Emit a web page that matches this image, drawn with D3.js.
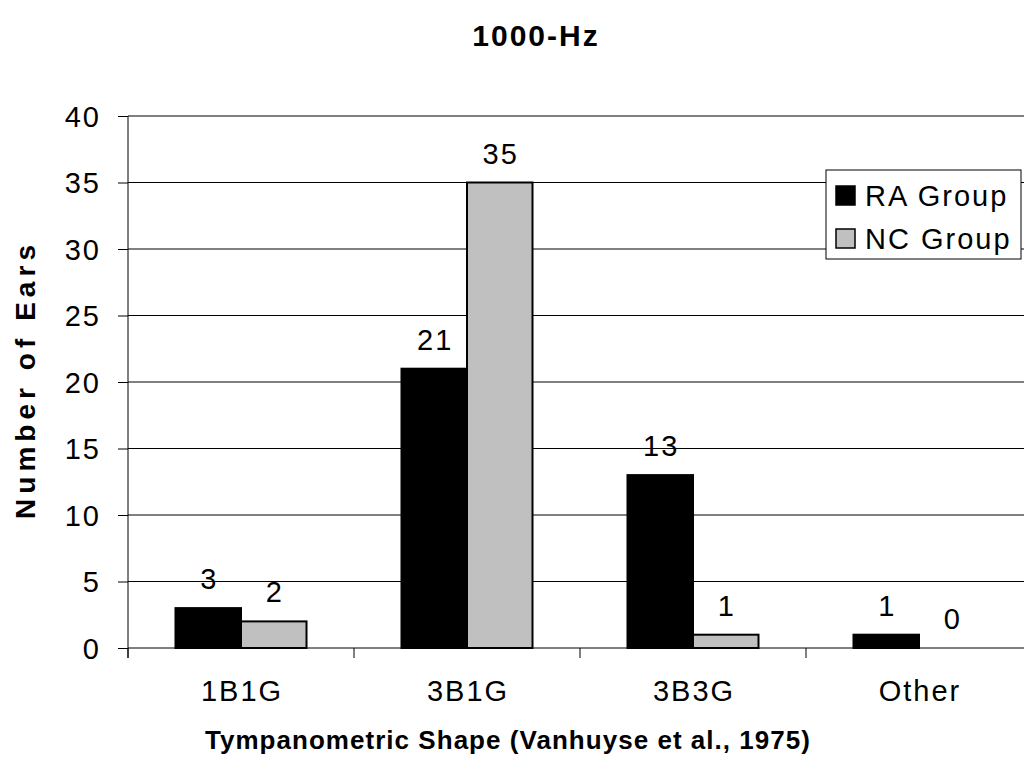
<!DOCTYPE html>
<html>
<head>
<meta charset="utf-8">
<script src="https://cdn.jsdelivr.net/npm/d3@7"></script>
<style>
  html, body { margin: 0; padding: 0; background: #fff; }
  svg { display: block; font-family: "Liberation Sans", Arial, sans-serif; }
</style>
</head>
<body>
<svg id="chart" width="1024" height="764"></svg>
<script>
// Tympanogram shape counts per group
const categories = ["1B1G", "3B1G", "3B3G", "Other"];
const seriesNames = ["RA Group", "NC Group"];
const raValues = [3, 21, 13, 1];
const ncValues = [2, 35, 1, 0];
const yTicks = [0, 5, 10, 15, 20, 25, 30, 35, 40];
const titleText = "1000-Hz";
const xTitleText = "Tympanometric Shape (Vanhuyse et al., 1975)";
const yTitleText = "Number of Ears";

const seriesFill = ["#000000", "#c0c0c0"];
const svg = d3.select("#chart");

const plot = { left: 128, right: 1032, top: 116, bottom: 648 };
const FS = 29;   // regular label size
const LS = 2;    // letter spacing used for regular labels

const x = d3.scaleBand().domain(categories).range([plot.left, plot.right]).paddingInner(0).paddingOuter(0);
const xs = d3.scaleBand().domain(seriesNames).range([0, x.bandwidth()]).paddingInner(0).paddingOuter(0.725);
const y = d3.scaleLinear().domain([0, 40]).range([plot.bottom, plot.top]);

// horizontal gridlines
svg.append("g").selectAll("line").data(yTicks.filter(d => d > 0)).join("line")
  .attr("x1", plot.left).attr("x2", plot.right)
  .attr("y1", d => y(d)).attr("y2", d => y(d))
  .attr("stroke", "#000").attr("stroke-width", 1);

// y axis
const yAxis = svg.append("g").attr("transform", `translate(${plot.left},0)`)
  .call(d3.axisLeft(y).tickValues(yTicks).tickSize(10).tickFormat(d3.format("d")));
yAxis.select(".domain").remove();
yAxis.selectAll(".tick line").attr("stroke", "#000");
yAxis.selectAll(".tick text")
  .attr("x", -29 + LS).attr("dy", "10px")
  .attr("font-size", FS).attr("letter-spacing", LS).attr("fill", "#000")
  .attr("font-family", "Liberation Sans, Arial, sans-serif");
svg.append("line").attr("x1", plot.left).attr("x2", plot.left)
  .attr("y1", plot.top).attr("y2", plot.bottom + 10).attr("stroke", "#000");

// x axis
const xAxis = svg.append("g").attr("transform", `translate(0,${plot.bottom})`)
  .call(d3.axisBottom(x).tickSize(0).tickFormat(""));
xAxis.select(".domain").remove();
svg.append("line").attr("x1", plot.left).attr("x2", plot.right)
  .attr("y1", plot.bottom).attr("y2", plot.bottom).attr("stroke", "#000");
const bounds = categories.map(c => x(c)).concat([x(categories[categories.length - 1]) + x.bandwidth()]);
svg.append("g").selectAll("line").data(bounds).join("line")
  .attr("x1", d => d).attr("x2", d => d)
  .attr("y1", plot.bottom).attr("y2", plot.bottom + 10)
  .attr("stroke", "#000");
svg.append("g").selectAll("text").data(categories).join("text")
  .attr("x", d => x(d) + x.bandwidth() / 2 + LS / 2)
  .attr("y", 701)
  .attr("text-anchor", "middle")
  .attr("font-size", FS).attr("letter-spacing", LS)
  .text(d => d);

// bars
const rows = categories.map((c, i) => ({ cat: c, vals: [raValues[i], ncValues[i]] }));
const groups = svg.append("g").selectAll("g").data(rows).join("g")
  .attr("transform", d => `translate(${x(d.cat)},0)`);
groups.selectAll("rect").data(d => d.vals.map((v, j) => ({ v, j }))).join("rect")
  .attr("x", d => xs(seriesNames[d.j]))
  .attr("width", xs.bandwidth())
  .attr("y", d => y(d.v))
  .attr("height", d => y(0) - y(d.v))
  .attr("fill", d => seriesFill[d.j])
  .attr("stroke", "#000").attr("stroke-width", 2)
  .attr("display", d => d.v > 0 ? null : "none");
groups.selectAll("text").data(d => d.vals.map((v, j) => ({ v, j }))).join("text")
  .attr("x", d => xs(seriesNames[d.j]) + xs.bandwidth() / 2 + LS / 2)
  .attr("y", d => y(d.v) - 19)
  .attr("text-anchor", "middle")
  .attr("font-size", FS).attr("letter-spacing", LS)
  .text(d => d.v);

// titles
svg.append("text").attr("x", 536).attr("y", 46)
  .attr("text-anchor", "middle").attr("font-weight", "bold").attr("font-size", 30)
  .attr("letter-spacing", 2)
  .text(titleText);
svg.append("text").attr("x", 205).attr("y", 749)
  .attr("font-weight", "bold").attr("font-size", 26)
  .attr("textLength", 605).attr("lengthAdjust", "spacing")
  .text(xTitleText);
svg.append("text").attr("transform", "translate(35,519) rotate(-90)")
  .attr("font-weight", "bold").attr("font-size", 28)
  .attr("textLength", 274).attr("lengthAdjust", "spacing")
  .text(yTitleText);

// legend
const legend = svg.append("g").attr("transform", "translate(826,170)");
legend.append("rect").attr("x", 0).attr("y", 0).attr("width", 195).attr("height", 89)
  .attr("fill", "#fff").attr("stroke", "#000").attr("stroke-width", 1);
const items = legend.selectAll("g").data(seriesNames).join("g")
  .attr("transform", (d, i) => `translate(0,${15 + i * 43})`);
items.append("rect").attr("x", 10).attr("y", 1).attr("width", 19).attr("height", 19)
  .attr("fill", (d, i) => seriesFill[i]).attr("stroke", "#000").attr("stroke-width", 1.5);
items.append("text").attr("x", 39).attr("y", 21)
  .attr("font-size", FS).attr("letter-spacing", LS)
  .text(d => d);
</script>
</body>
</html>
